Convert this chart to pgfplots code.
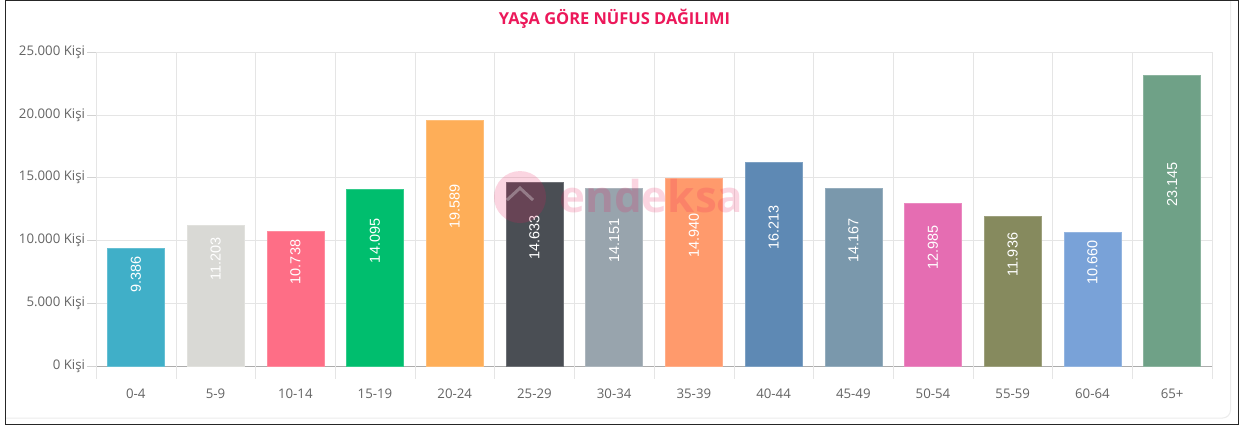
\documentclass[border=0pt]{standalone}
\usepackage{pgfplots}
\pgfplotsset{compat=1.18}
\usepackage{fontspec}
\setmainfont{Open Sans}
\newfontfamily\valfont{Liberation Sans}
\definecolor{titlec}{RGB}{236,24,90}
\definecolor{tickc}{RGB}{100,100,100}
\definecolor{c0}{RGB}{64,175,200}
\definecolor{c1}{RGB}{217,217,213}
\definecolor{c2}{RGB}{254,110,134}
\definecolor{c3}{RGB}{0,190,110}
\definecolor{c4}{RGB}{254,174,88}
\definecolor{c5}{RGB}{74,78,84}
\definecolor{c6}{RGB}{152,164,173}
\definecolor{c7}{RGB}{255,154,108}
\definecolor{c8}{RGB}{94,137,180}
\definecolor{c9}{RGB}{122,152,172}
\definecolor{c10}{RGB}{229,109,178}
\definecolor{c11}{RGB}{134,138,94}
\definecolor{c12}{RGB}{121,162,216}
\definecolor{c13}{RGB}{111,161,135}
\begin{document}
\begin{tikzpicture}[x=1bp,y=1bp]
\fill[white] (0,0) rectangle (1245,428);
\draw[gray!15, line width=1bp, rounded corners=8bp] (6,10) -- (1230.5,10) -- (1230.5,427);
\draw[black!85, line width=1.5bp] (5.5,3.8) rectangle (1238.5,427.3);
\node[text=titlec, font=\bfseries\fontsize{16.5}{16.5}\selectfont] at (614.5,409) {YAŞA GÖRE NÜFUS DAĞILIMI};
\begin{axis}[
  at={(96bp,62.3bp)}, anchor=south west, scale only axis,
  width=1116bp, height=313.7bp,
  xmin=-0.5, xmax=13.5, ymin=0, ymax=25000,
  scaled y ticks=false,
  axis x line=bottom, axis y line=left,
  axis line style={-, draw=gray!65},
  ytick={0,5000,10000,15000,20000,25000},
  yticklabels={0 Kişi,5.000 Kişi,10.000 Kişi,15.000 Kişi,20.000 Kişi,25.000 Kişi},
  ymajorgrids, grid style={gray!20},
  ytick style={draw=gray!35},
  tick align=outside, major tick length=9bp,
  yticklabel style={font=\fontsize{13.3}{13.3}\selectfont, text=tickc, xshift=1.5bp},
  xtick={0,...,13},
  xticklabels={0-4,5-9,10-14,15-19,20-24,25-29,30-34,35-39,40-44,45-49,50-54,55-59,60-64,65+},
  xticklabel style={font=\fontsize{13.3}{13.3}\selectfont, text=tickc, yshift=-11bp},
  xtick style={draw=none},
  extra x ticks={-0.5,0.5,...,13.5},
  extra x tick labels={},
  extra x tick style={grid=major, xtick style={draw=gray!20}, major tick length=13bp, tick align=outside},
  clip=false,
]
\pgfplotsset{every axis plot/.append style={ybar, bar width=57bp, bar shift=0pt}}
\addplot[fill=c0, draw=c0!80!white] coordinates {(0,9386)};
\addplot[fill=c1, draw=c1!80!white] coordinates {(1,11203)};
\addplot[fill=c2, draw=c2!80!white] coordinates {(2,10738)};
\addplot[fill=c3, draw=c3!80!white] coordinates {(3,14095)};
\addplot[fill=c4, draw=c4!80!white] coordinates {(4,19589)};
\addplot[fill=c5, draw=c5!80!white] coordinates {(5,14633)};
\addplot[fill=c6, draw=c6!80!white] coordinates {(6,14151)};
\addplot[fill=c7, draw=c7!80!white] coordinates {(7,14940)};
\addplot[fill=c8, draw=c8!80!white] coordinates {(8,16213)};
\addplot[fill=c9, draw=c9!80!white] coordinates {(9,14167)};
\addplot[fill=c10, draw=c10!80!white] coordinates {(10,12985)};
\addplot[fill=c11, draw=c11!80!white] coordinates {(11,11936)};
\addplot[fill=c12, draw=c12!80!white] coordinates {(12,10660)};
\addplot[fill=c13, draw=c13!80!white] coordinates {(13,23145)};
\tikzset{vl/.style={rotate=90, text=white, font=\valfont\fontsize{14.5}{14.5}\selectfont}}
\node[vl] at (axis cs:0,7250) {9.386};
\node[vl] at (axis cs:1,8502) {11.203};
\node[vl] at (axis cs:2,8269) {10.738};
\node[vl] at (axis cs:3,9948) {14.095};
\node[vl] at (axis cs:4,12695) {19.589};
\node[vl] at (axis cs:5,10217) {14.633};
\node[vl] at (axis cs:6,9976) {14.151};
\node[vl] at (axis cs:7,10370) {14.940};
\node[vl] at (axis cs:8,11007) {16.213};
\node[vl] at (axis cs:9,9984) {14.167};
\node[vl] at (axis cs:10,9393) {12.985};
\node[vl] at (axis cs:11,8868) {11.936};
\node[vl] at (axis cs:12,8230) {10.660};
\node[vl] at (axis cs:13,14473) {23.145};
\end{axis}
\begin{scope}[opacity=0.18]
\fill[titlec] (520,231) circle (26);
\end{scope}
\draw[white, opacity=0.3, line width=3bp] (507,228) -- (520,240) -- (533,228);
\node[text=titlec, opacity=0.18, font=\bfseries\fontsize{44}{44}\selectfont, anchor=base west] at (556,216) {endeksa};
\end{tikzpicture}
\end{document}
